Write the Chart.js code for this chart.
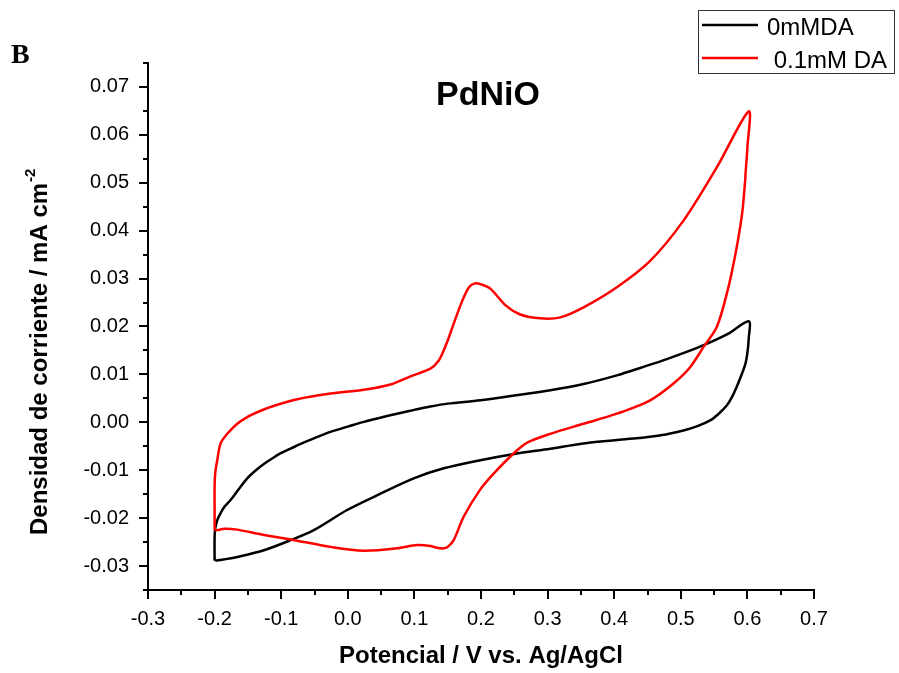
<!DOCTYPE html>
<html>
<head>
<meta charset="utf-8">
<script src="https://cdn.jsdelivr.net/npm/chart.js@4.4.0/dist/chart.umd.min.js"></script>
<style>
  body { margin: 0; background: #fff; }
  canvas { display: block; }
</style>
</head>
<body>
<canvas id="chart" width="899" height="673"></canvas>
<script>
// tick labels
const xTicks = [-0.3, -0.2, -0.1, 0.0, 0.1, 0.2, 0.3, 0.4, 0.5, 0.6, 0.7];
const yTicks = [-0.03, -0.02, -0.01, 0.00, 0.01, 0.02, 0.03, 0.04, 0.05, 0.06, 0.07];

const seriesNames = ['0mMDA', ' 0.1mM DA'];

// 0mMDA, potential (V) and current density (mA cm-2), in scan order
const blankE = [-0.200, -0.200, -0.199, -0.196, -0.192, -0.186, -0.176, -0.165, -0.151, -0.138, -0.126, -0.113, -0.100, -0.080, -0.076, -0.050, -0.026,
  0.000, 0.024, 0.050, 0.074, 0.100, 0.124, 0.150, 0.199, 0.250, 0.304, 0.354, 0.404, 0.440, 0.479, 0.529, 0.570, 0.602,
  0.602, 0.600, 0.597, 0.590, 0.584, 0.577, 0.569, 0.557, 0.544, 0.525, 0.504, 0.470, 0.429, 0.354, 0.304, 0.250, 0.199, 0.144, 0.099, 0.049,
  -0.001, -0.051, -0.086, -0.126, -0.166, -0.185, -0.199];
const blankJ = [-0.0289, -0.0240, -0.0222, -0.0204, -0.0192, -0.0178, -0.0162, -0.0142, -0.0117, -0.0100, -0.0087, -0.0075, -0.0064, -0.0051, -0.0048, -0.0033, -0.0020,
  -0.0009, 0.0001, 0.0010, 0.0018, 0.0026, 0.0033, 0.0039, 0.0046, 0.0056, 0.0067, 0.0080, 0.0098, 0.0114, 0.0132, 0.0158, 0.0184, 0.0211,
  0.0175, 0.0145, 0.0122, 0.0095, 0.0074, 0.0053, 0.0035, 0.0018, 0.0004, -0.0008, -0.0017, -0.0027, -0.0034, -0.0044, -0.0055, -0.0066, -0.0079, -0.0096, -0.0117, -0.0149,
  -0.0183, -0.0225, -0.0246, -0.0267, -0.0281, -0.0286, -0.0289];

// 0.1mM DA
const daE = [-0.200, -0.200, -0.200, -0.199, -0.196, -0.191, -0.181, -0.166, -0.151, -0.136, -0.116, -0.076, -0.026,
  0.024, 0.064, 0.094, 0.124, 0.136, 0.144, 0.152, 0.159, 0.172, 0.182, 0.191, 0.200, 0.214, 0.237, 0.259, 0.289, 0.319,
  0.354, 0.404, 0.454, 0.504, 0.554, 0.602,
  0.600, 0.597, 0.597, 0.592, 0.582, 0.569, 0.554, 0.534, 0.514, 0.489, 0.454, 0.404, 0.354, 0.304, 0.270, 0.249, 0.219,
  0.199, 0.174, 0.159, 0.150, 0.144, 0.134, 0.124, 0.104, 0.074, 0.024, -0.026, -0.076, -0.126, -0.166, -0.185, -0.196, -0.200];
const daJ = [-0.0225, -0.0180, -0.0135, -0.0105, -0.0079, -0.0044, -0.0024, -0.0003, 0.0011, 0.0021, 0.0032, 0.0048, 0.0060,
  0.0068, 0.0079, 0.0096, 0.0112, 0.0128, 0.0150, 0.0178, 0.0206, 0.0254, 0.0282, 0.0290, 0.0288, 0.0279, 0.0244, 0.0225, 0.0217, 0.0219,
  0.0240, 0.0282, 0.0337, 0.0421, 0.0532, 0.0649,
  0.0574, 0.0515, 0.0511, 0.0435, 0.0351, 0.0268, 0.0199, 0.0157, 0.0115, 0.0081, 0.0046, 0.0018, -0.0003, -0.0024, -0.0042, -0.0065, -0.0107,
  -0.0140, -0.0197, -0.0246, -0.0260, -0.0263, -0.0262, -0.0258, -0.0256, -0.0263, -0.0268, -0.0260, -0.0247, -0.0235, -0.0224, -0.0222, -0.0225, -0.0225];

const toPoints = (xs, ys) => xs.map((v, i) => ({ x: v, y: ys[i] }));

const FONT = '"Liberation Sans", Arial, sans-serif';

const extras = {
  id: 'extras',
  afterDraw(chart) {
    const ctx = chart.ctx;
    const xs = chart.scales.x, ys = chart.scales.y;
    ctx.save();

    // minor ticks
    ctx.strokeStyle = '#000';
    ctx.lineWidth = 2;
    for (let i = 0; i < xTicks.length - 1; i++) {
      const px = Math.round(xs.getPixelForValue((xTicks[i] + xTicks[i + 1]) / 2));
      ctx.beginPath(); ctx.moveTo(px, ys.bottom); ctx.lineTo(px, ys.bottom + 5); ctx.stroke();
    }
    const ymin = [yTicks[0] - 0.005].concat(yTicks.map(v => v + 0.005));
    ymin.forEach(v => {
      const py = Math.round(ys.getPixelForValue(v));
      ctx.beginPath(); ctx.moveTo(xs.left, py); ctx.lineTo(xs.left - 5, py); ctx.stroke();
    });

    ctx.fillStyle = '#000';
    // panel letter
    ctx.font = 'bold 28px "Liberation Serif", "Times New Roman", serif';
    ctx.textAlign = 'left';
    ctx.textBaseline = 'alphabetic';
    ctx.fillText('B', 11, 63);

    // title inside plot
    ctx.font = 'bold 34px ' + FONT;
    ctx.textAlign = 'center';
    ctx.fillText('PdNiO', 488, 105);

    // x axis title
    ctx.font = 'bold 24px ' + FONT;
    ctx.fillText('Potencial / V vs. Ag/AgCl', (xs.left + xs.right) / 2, 663);

    // y axis title with superscript
    ctx.save();
    ctx.translate(47, 535);
    ctx.rotate(-Math.PI / 2);
    ctx.textAlign = 'left';
    ctx.font = 'bold 24px ' + FONT;
    const main = 'Densidad de corriente / mA cm';
    ctx.fillText(main, 0, 0);
    const w = ctx.measureText(main).width;
    ctx.font = 'bold 15px ' + FONT;
    ctx.fillText('-2', w + 1, -12);
    ctx.restore();

    // legend
    ctx.lineWidth = 1;
    ctx.strokeStyle = '#333';
    ctx.strokeRect(698.5, 10.5, 196, 63);
    ctx.font = '24px ' + FONT;
    ctx.textAlign = 'left';
    const rows = [25, 58];
    chart.data.datasets.forEach((ds, i) => {
      ctx.strokeStyle = ds.borderColor;
      ctx.lineWidth = 2.5;
      ctx.beginPath(); ctx.moveTo(702, rows[i]); ctx.lineTo(758, rows[i]); ctx.stroke();
      ctx.fillStyle = '#000';
      ctx.fillText(ds.label, 767, rows[i] + 10);
    });
    ctx.restore();
  }
};

new Chart(document.getElementById('chart'), {
  type: 'scatter',
  data: {
    datasets: [
      {
        label: seriesNames[0],
        data: toPoints(blankE, blankJ),
        showLine: true,
        borderColor: '#000000',
        borderWidth: 2.5,
        pointRadius: 0,
        tension: 0.3,
        order: 1
      },
      {
        label: seriesNames[1],
        data: toPoints(daE, daJ),
        showLine: true,
        borderColor: '#ff0000',
        borderWidth: 2.5,
        pointRadius: 0,
        tension: 0.3,
        order: 0
      }
    ]
  },
  options: {
    responsive: false,
    animation: false,
    layout: { padding: { top: 63, right: 85, left: 0, bottom: 0 } },
    plugins: {
      legend: { display: false },
      tooltip: { enabled: false }
    },
    scales: {
      x: {
        type: 'linear',
        min: -0.3,
        max: 0.7,
        afterBuildTicks: s => { s.ticks = xTicks.map(v => ({ value: v })); },
        afterFit: s => { s.height = 83; },
        grid: { drawOnChartArea: false, drawTicks: true, tickLength: 9, color: '#000', lineWidth: 2 },
        border: { display: true, color: '#000', width: 2 },
        ticks: {
          color: '#000',
          padding: 8,
          maxRotation: 0,
          font: { family: FONT, size: 20 },
          callback: v => v.toFixed(1)
        }
      },
      y: {
        type: 'linear',
        min: -0.035,
        max: 0.075,
        afterBuildTicks: s => { s.ticks = yTicks.map(v => ({ value: v })); },
        afterFit: s => { s.width = 148; },
        grid: { drawOnChartArea: false, drawTicks: true, tickLength: 9, color: '#000', lineWidth: 2 },
        border: { display: true, color: '#000', width: 2 },
        ticks: {
          color: '#000',
          padding: 10,
          font: { family: FONT, size: 20 },
          callback: v => v.toFixed(2)
        }
      }
    }
  },
  plugins: [extras]
});
</script>
</body>
</html>
